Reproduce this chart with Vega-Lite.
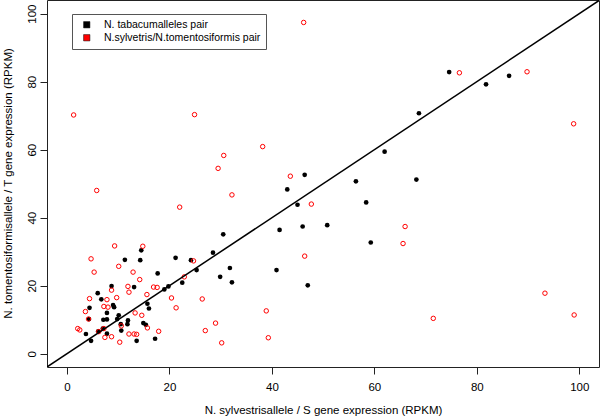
{
  "$schema": "https://vega.github.io/schema/vega-lite/v6.json",
  "width": 552,
  "height": 367,
  "autosize": {"type": "none"},
  "padding": {"left": 47, "top": 0, "right": 1, "bottom": 49},
  "background": "white",
  "config": {
    "view": {"stroke": "#222", "strokeWidth": 1},
    "font": "Liberation Sans",
    "axis": {
      "domain": false, "grid": false, "ticks": true, "tickColor": "#222", "tickSize": 7, "tickWidth": 1,
      "labelColor": "black", "labelFont": "Liberation Sans", "labelFontSize": 11.5,
      "titleFont": "Liberation Sans", "titleFontSize": 11.5, "titleFontWeight": "normal", "titleColor": "black",
      "labelFlush": false, "labelOverlap": false
    }
  },
  "datasets": {
    "tabacum": [
      {"x":74.6,"y":82.8},{"x":81.8,"y":79.2},{"x":86.3,"y":81.7},{"x":68.7,"y":70.7},{"x":62.0,"y":59.4},
      {"x":46.4,"y":52.6},{"x":56.4,"y":50.7},{"x":68.2,"y":51.2},{"x":58.4,"y":44.5},{"x":43.0,"y":48.3},
      {"x":45.0,"y":43.8},{"x":46.0,"y":37.4},{"x":50.8,"y":37.8},{"x":59.3,"y":32.7},{"x":41.5,"y":36.4},
      {"x":47.0,"y":20.1},{"x":40.9,"y":24.6},{"x":30.5,"y":35.1},{"x":31.8,"y":25.2},{"x":29.9,"y":22.6},
      {"x":32.2,"y":21.0},{"x":28.5,"y":29.7},{"x":25.3,"y":24.6},{"x":24.2,"y":27.5},{"x":22.5,"y":20.9},
      {"x":21.2,"y":28.2},{"x":19.8,"y":19.8},{"x":19.0,"y":18.9},{"x":17.7,"y":23.6},{"x":17.2,"y":4.4},
      {"x":15.7,"y":14.7},{"x":16.0,"y":13.3},{"x":14.9,"y":9.0},{"x":15.4,"y":8.5},{"x":14.5,"y":30.4},
      {"x":14.3,"y":27.5},{"x":13.6,"y":3.8},{"x":13.1,"y":19.6},{"x":11.3,"y":27.6},{"x":8.7,"y":19.9},
      {"x":6.0,"y":17.8},{"x":6.7,"y":16.0},{"x":4.4,"y":13.5},{"x":9.0,"y":14.3},{"x":9.2,"y":13.7},
      {"x":7.8,"y":12.0},{"x":4.3,"y":10.2},{"x":7.1,"y":10.0},{"x":7.8,"y":10.1},{"x":10.1,"y":11.3},
      {"x":9.8,"y":10.2},{"x":10.5,"y":8.7},{"x":11.9,"y":9.8},{"x":11.8,"y":8.7},{"x":6.1,"y":6.6},
      {"x":7.8,"y":5.9},{"x":7.0,"y":7.4},{"x":10.6,"y":6.8},{"x":3.7,"y":5.8},{"x":4.7,"y":3.8}
    ],
    "sylv": [
      {"x":1.3,"y":70.2},{"x":24.9,"y":70.3},{"x":29.5,"y":54.5},{"x":5.8,"y":48.0},{"x":22.0,"y":43.1},
      {"x":38.2,"y":60.9},{"x":30.6,"y":58.3},{"x":43.6,"y":52.2},{"x":32.2,"y":46.7},{"x":46.2,"y":97.4},
      {"x":76.6,"y":82.6},{"x":89.8,"y":82.9},{"x":98.9,"y":67.6},{"x":47.7,"y":44.0},{"x":66.0,"y":37.4},
      {"x":65.6,"y":32.4},{"x":46.4,"y":28.7},{"x":71.5,"y":10.4},{"x":93.3,"y":17.8},{"x":99.0,"y":11.4},
      {"x":38.9,"y":12.6},{"x":39.3,"y":4.7},{"x":30.2,"y":3.2},{"x":29.0,"y":9.0},{"x":9.3,"y":31.7},
      {"x":4.7,"y":27.9},{"x":5.3,"y":24.0},{"x":10.1,"y":25.7},{"x":12.9,"y":24.0},{"x":14.2,"y":21.8},
      {"x":11.9,"y":19.8},{"x":12.1,"y":18.1},{"x":8.7,"y":18.7},{"x":9.7,"y":16.5},{"x":7.8,"y":15.9},
      {"x":8.0,"y":13.7},{"x":7.2,"y":13.9},{"x":4.4,"y":16.2},{"x":3.6,"y":12.4},{"x":4.2,"y":10.2},
      {"x":13.3,"y":12.0},{"x":2.1,"y":7.4},{"x":2.5,"y":7.0},{"x":6.2,"y":6.5},{"x":7.2,"y":7.4},
      {"x":7.4,"y":4.8},{"x":8.7,"y":5.0},{"x":10.6,"y":8.2},{"x":10.3,"y":3.4},{"x":12.1,"y":5.8},
      {"x":13.1,"y":5.8},{"x":13.6,"y":5.7},{"x":14.8,"y":31.6},{"x":24.7,"y":27.3},{"x":22.9,"y":22.6},
      {"x":16.9,"y":19.6},{"x":17.6,"y":19.5},{"x":15.6,"y":17.4},{"x":20.4,"y":16.4},{"x":21.3,"y":13.5},
      {"x":26.4,"y":16.1},{"x":14.6,"y":11.3},{"x":15.7,"y":7.6},{"x":17.9,"y":6.6},{"x":27.0,"y":6.8}
    ],
    "diag": [{"x": -10, "y": -10, "x2": 110, "y2": 110}]
  },
  "layer": [
    {
      "data": {"name": "tabacum"},
      "mark": {"type": "point", "shape": "circle", "filled": true, "size": 22, "opacity": 1},
      "encoding": {
        "x": {
          "field": "x", "type": "quantitative",
          "scale": {"domain": [-3.9, 103.85], "nice": false, "zero": false},
          "axis": {
            "title": "N. sylvestrisallele / S gene expression (RPKM)",
            "values": [0, 20, 40, 60, 80, 100],
            "labelPadding": 16, "labelBaseline": "alphabetic",
            "titleX": 276, "titleY": 46, "titleAlign": "center", "titleBaseline": "alphabetic"
          }
        },
        "y": {
          "field": "y", "type": "quantitative",
          "scale": {"domain": [-3.9, 104.0], "nice": false, "zero": false},
          "axis": {
            "title": "N. tomentosiformisallele / T gene expression (RPKM)",
            "values": [0, 20, 40, 60, 80, 100],
            "labelAngle": 270, "labelAlign": "center", "labelBaseline": "alphabetic", "labelPadding": 5,
            "titleAngle": 270, "titleX": -36, "titleY": 183, "titleAlign": "center", "titleBaseline": "alphabetic"
          }
        },
        "color": {
          "datum": "N. tabacumalleles pair",
          "type": "nominal",
          "scale": {"domain": ["N. tabacumalleles pair", "N.sylvetris/N.tomentosiformis pair"], "range": ["black", "red"]},
          "legend": {
            "orient": "none", "legendX": 25, "legendY": 14, "title": null,
            "symbolType": "square", "symbolSize": 40, "symbolStrokeColor": "black", "symbolStrokeWidth": 0.5,
            "labelFont": "Liberation Sans", "labelFontSize": 10.5, "labelColor": "black",
            "padding": 5.5, "symbolOffset": 4, "labelOffset": 12, "rowPadding": 2,
            "strokeColor": "#555", "fillColor": "white"
          }
        }
      }
    },
    {
      "data": {"name": "sylv"},
      "mark": {"type": "point", "shape": "circle", "filled": false, "size": 20, "strokeWidth": 1, "color": "red", "opacity": 1},
      "encoding": {
        "x": {"field": "x", "type": "quantitative"},
        "y": {"field": "y", "type": "quantitative"}
      }
    },
    {
      "data": {"name": "diag"},
      "mark": {"type": "rule", "clip": true, "color": "black", "strokeWidth": 1.5},
      "encoding": {
        "x": {"field": "x", "type": "quantitative"},
        "y": {"field": "y", "type": "quantitative"},
        "x2": {"field": "x2"},
        "y2": {"field": "y2"}
      }
    }
  ]
}
